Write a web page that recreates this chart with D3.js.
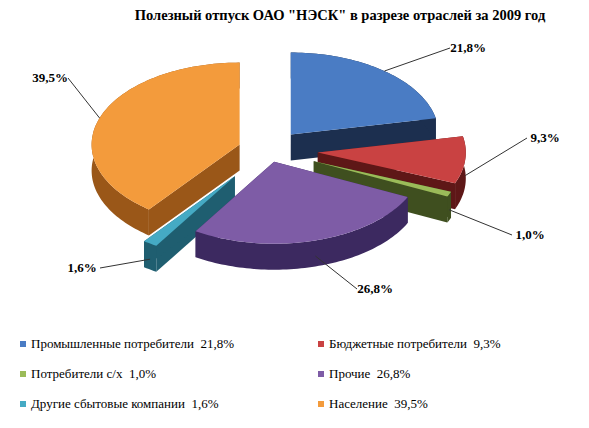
<!DOCTYPE html>
<html lang="ru">
<head>
<meta charset="UTF-8" />
<script src="https://d3js.org/d3.v7.min.js"></script>
<style>
  body { margin: 0; background: #fff; }
</style>
</head>
<body>
<svg id="chart" width="589" height="428" font-family="'Liberation Serif', 'DejaVu Serif', serif"></svg>
<script>
var categories = ["Промышленные потребители", "Бюджетные потребители", "Потребители с/х", "Прочие", "Другие сбытовые компании", "Население"];
var values = [21.8, 9.3, 1.0, 26.8, 1.6, 39.5];
var labels = ["21,8%", "9,3%", "1,0%", "26,8%", "1,6%", "39,5%"];
var topColors = ["#4a7cc4", "#c94242", "#9bbb59", "#7e5ca6", "#45aac4", "#f39b3c"];
var sideColors = ["#1c2f4f", "#5e1717", "#3f4f1f", "#3c2960", "#1f5e70", "#9a5718"];
// label placement: [x, y, anchor] and explode distance per slice
var labelPos = [[468, 52, "middle"], [545, 142, "middle"], [530, 239, "middle"], [375, 293, "middle"], [82, 272, "middle"], [50, 82, "middle"]];
var explode = [36, 50, 50, 22, 58, 30];

var svg = d3.select("#chart");
var cx = 268, cy = 150, rx = 148, ry = 82, depth = 26;

svg.append("text").attr("x", 340).attr("y", 20).attr("text-anchor", "middle")
  .attr("font-size", 14.5).attr("font-weight", "bold")
  .text("Полезный отпуск ОАО \"НЭСК\" в разрезе отраслей за 2009 год");

var arcs = d3.pie().sort(null).value(function (d) { return d; })(values);
arcs.forEach(function (a, i) {
  a.i = i;
  a.mid = (a.startAngle + a.endAngle) / 2;
  a.ox = cx + explode[i] * Math.sin(a.mid);
  a.oy = cy - explode[i] * (ry / rx) * Math.cos(a.mid);
});

function pt(a, t, dz) { return [a.ox + rx * Math.sin(t), a.oy - ry * Math.cos(t) + (dz || 0)]; }
function arcPts(a, dz) {
  var n = Math.max(4, Math.ceil((a.endAngle - a.startAngle) * 40));
  return d3.range(n + 1).map(function (k) {
    return pt(a, a.startAngle + (a.endAngle - a.startAngle) * k / n, dz);
  });
}
var line = d3.line();

var order = arcs.slice().sort(function (p, q) { return Math.cos(q.mid) - Math.cos(p.mid); });
order.forEach(function (a) {
  var g = svg.append("g");
  var side = sideColors[a.i];
  var c0 = [a.ox, a.oy], c1 = [a.ox, a.oy + depth];
  [a.startAngle, a.endAngle].forEach(function (t) {
    var e0 = pt(a, t, 0), e1 = pt(a, t, depth);
    g.append("path").attr("d", line([c0, e0, e1, c1]) + "Z").attr("fill", side);
  });
  var top = arcPts(a, 0), bot = arcPts(a, depth).reverse();
  g.append("path").attr("d", line(top.concat(bot)) + "Z").attr("fill", side);
  g.append("path").attr("d", line([c0].concat(top)) + "Z").attr("fill", topColors[a.i]);
});

// labels with leader lines
arcs.forEach(function (a, i) {
  var e = pt(a, a.mid, Math.cos(a.mid) < 0 ? depth * 0.6 : 0);
  var lp = labelPos[i];
  var lx = lp[0] + (lp[0] > e[0] ? -18 : 18), ly = lp[1] - 4;
  svg.append("line").attr("x1", e[0]).attr("y1", e[1]).attr("x2", lx).attr("y2", ly)
    .attr("stroke", "#333").attr("stroke-width", 1);
  svg.append("text").attr("x", lp[0]).attr("y", lp[1]).attr("text-anchor", lp[2])
    .attr("font-size", 13).attr("font-weight", "bold").text(labels[i]);
});

// legend
var leg = svg.append("g");
categories.forEach(function (c, i) {
  var x = i % 2 === 0 ? 20 : 318, y = 348 + Math.floor(i / 2) * 30;
  leg.append("rect").attr("x", x).attr("y", y - 7).attr("width", 6).attr("height", 6).attr("fill", topColors[i]);
  leg.append("text").attr("x", x + 11).attr("y", y).attr("font-size", 13)
    .text(c + "\u00a0\u00a0" + labels[i]);
});
</script>
</body>
</html>
